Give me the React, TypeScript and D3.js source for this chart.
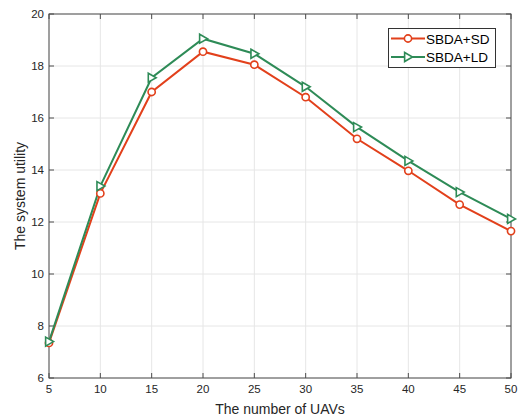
import React from "react";
import * as d3 from "d3";

const uavs = [5, 10, 15, 20, 25, 30, 35, 40, 45, 50];
const sbdaSD = [7.35, 13.1, 17.0, 18.55, 18.05, 16.8, 15.2, 13.97, 12.67, 11.65];
const sbdaLD = [7.4, 13.38, 17.55, 19.05, 18.47, 17.2, 15.65, 14.35, 13.15, 12.12];
const xTicks = [5, 10, 15, 20, 25, 30, 35, 40, 45, 50];
const yTicks = [6, 8, 10, 12, 14, 16, 18, 20];
const seriesNames = ["SBDA+SD", "SBDA+LD"];

const W = 524, H = 417;
const m = { left: 49, right: 13, top: 14, bottom: 39 };
const RED = "#e2401b";
const GREEN = "#2e8b57";
const AX = "#4d4d4d";
const FONT = "'Liberation Sans', Arial, sans-serif";

export default function App() {
  const x = d3.scaleLinear().domain([5, 50]).range([m.left, W - m.right]);
  const y = d3.scaleLinear().domain([6, 20]).range([H - m.bottom, m.top]);
  const line = d3.line<number>().x((_, i) => x(uavs[i])).y((d) => y(d));
  const x0 = x(5), x1 = x(50), y0 = y(6), y1 = y(20);
  const tri = (cx: number, cy: number, s = 4.5) =>
    `M${cx - s * 0.75},${cy - s} L${cx + s},${cy} L${cx - s * 0.75},${cy + s} Z`;
  const tl = 5;
  return (
    <svg width={W} height={H} style={{ position: "absolute", left: 0, top: 0, background: "#fff" }}>
      <rect x={0} y={0} width={W} height={H} fill="#fff" />
      {/* grid */}
      {xTicks.map((t) => (
        <line key={"gx" + t} x1={x(t)} x2={x(t)} y1={y0} y2={y1} stroke="#e6e6e6" strokeWidth={1} />
      ))}
      {yTicks.map((t) => (
        <line key={"gy" + t} x1={x0} x2={x1} y1={y(t)} y2={y(t)} stroke="#e6e6e6" strokeWidth={1} />
      ))}
      {/* box */}
      <rect x={x0} y={y1} width={x1 - x0} height={y0 - y1} fill="none" stroke={AX} strokeWidth={1} />
      {/* ticks */}
      {xTicks.map((t) => (
        <g key={"tx" + t}>
          <line x1={x(t)} x2={x(t)} y1={y0} y2={y0 - tl} stroke={AX} />
          <line x1={x(t)} x2={x(t)} y1={y1} y2={y1 + tl} stroke={AX} />
          <text x={x(t)} y={y0 + 15} textAnchor="middle" fontFamily={FONT} fontSize={11.5} fill="#262626">
            {t}
          </text>
        </g>
      ))}
      {yTicks.map((t) => (
        <g key={"ty" + t}>
          <line x1={x0} x2={x0 + tl} y1={y(t)} y2={y(t)} stroke={AX} />
          <line x1={x1} x2={x1 - tl} y1={y(t)} y2={y(t)} stroke={AX} />
          <text x={x0 - 5} y={y(t) + 4} textAnchor="end" fontFamily={FONT} fontSize={11.5} fill="#262626">
            {t}
          </text>
        </g>
      ))}
      {/* labels */}
      <text x={(x0 + x1) / 2} y={414} textAnchor="middle" fontFamily={FONT} fontSize={14} fill="#262626">
        The number of UAVs
      </text>
      <text
        transform={`translate(25,${(y0 + y1) / 2}) rotate(-90)`}
        textAnchor="middle"
        fontFamily={FONT}
        fontSize={14}
        fill="#262626"
      >
        The system utility
      </text>
      {/* series */}
      <path d={line(sbdaSD) || ""} fill="none" stroke={RED} strokeWidth={2} />
      <path d={line(sbdaLD) || ""} fill="none" stroke={GREEN} strokeWidth={2} />
      {sbdaSD.map((v, i) => (
        <circle key={"c" + i} cx={x(uavs[i])} cy={y(v)} r={3.6} fill="#fff" stroke={RED} strokeWidth={1.6} />
      ))}
      {sbdaLD.map((v, i) => (
        <path key={"t" + i} d={tri(x(uavs[i]), y(v))} fill="#fff" stroke={GREEN} strokeWidth={1.6} />
      ))}
      {/* legend */}
      <g>
        <rect x={388.5} y={28.5} width={107} height={39} fill="#fff" stroke="#333" strokeWidth={1} />
        <line x1={391} x2={425} y1={38.5} y2={38.5} stroke={RED} strokeWidth={2} />
        <circle cx={408} cy={38.5} r={3.6} fill="#fff" stroke={RED} strokeWidth={1.6} />
        <text x={426} y={43.5} fontFamily={FONT} fontSize={13.5} fill="#000">
          {seriesNames[0]}
        </text>
        <line x1={391} x2={425} y1={57} y2={57} stroke={GREEN} strokeWidth={2} />
        <path d={tri(408, 57)} fill="#fff" stroke={GREEN} strokeWidth={1.6} />
        <text x={426} y={62} fontFamily={FONT} fontSize={13.5} fill="#000">
          {seriesNames[1]}
        </text>
      </g>
    </svg>
  );
}
